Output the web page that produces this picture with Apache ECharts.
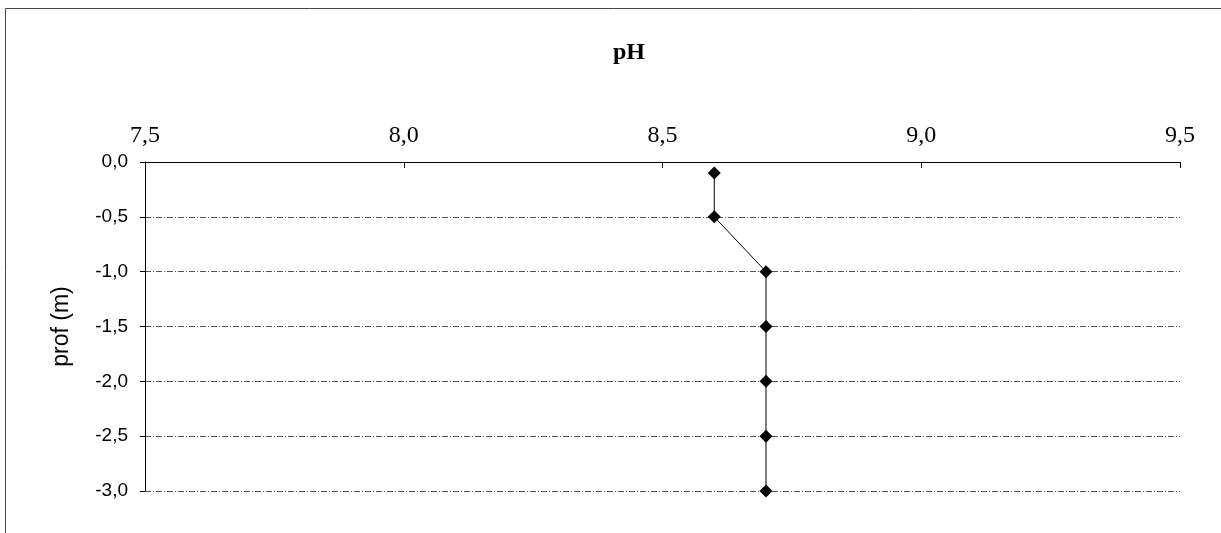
<!DOCTYPE html>
<html><head><meta charset="utf-8">
<script src="https://cdn.jsdelivr.net/npm/echarts@6/dist/echarts.min.js"></script>
<style>html,body{margin:0;padding:0;background:#fff}#c{width:1221px;height:533px}</style>
</head><body><div id="c"></div>
<script>
const phValues = [8.6, 8.6, 8.7, 8.7, 8.7, 8.7, 8.7];
const depths = [-0.1, -0.5, -1.0, -1.5, -2.0, -2.5, -3.0];
const titleText = 'pH';
const yAxisName = 'prof (m)';

const fmt = v => v.toFixed(1).replace('.', ',');
const chart = echarts.init(document.getElementById('c'), null, {renderer: 'canvas'});
chart.setOption({
  backgroundColor: '#fff',
  animation: false,
  title: {
    text: titleText, left: 608, top: 36,
    textStyle: {fontFamily: 'Liberation Serif', fontWeight: 'bold', fontSize: 24, color: '#000'}
  },
  graphic: [{
    type: 'rect', shape: {x: 5.5, y: 8.5, width: 1300, height: 600},
    style: {fill: 'none', stroke: '#444', lineWidth: 1}, silent: true
  }],
  grid: {left: 145, right: 41, top: 162, bottom: 42, containLabel: false},
  xAxis: {
    type: 'value', position: 'top', min: 7.5, max: 9.5, interval: 0.5,
    axisLine: {show: true, lineStyle: {color: '#000', width: 1}},
    axisTick: {show: true, inside: true, length: 6, lineStyle: {color: '#000'}},
    splitLine: {show: false},
    axisLabel: {formatter: fmt, fontFamily: 'Liberation Serif', fontSize: 24, color: '#000', margin: 14}
  },
  yAxis: {
    type: 'value', min: -3, max: 0, interval: 0.5,
    name: yAxisName, nameLocation: 'middle', nameGap: 72, nameRotate: 90,
    nameTextStyle: {fontFamily: 'Liberation Sans', fontSize: 23, color: '#000'},
    axisLine: {show: true, onZero: false, lineStyle: {color: '#000', width: 1}},
    axisTick: {show: true, length: 5, lineStyle: {color: '#000'}},
    splitLine: {show: true, lineStyle: {color: '#555', width: 1, type: [6, 2, 1, 2]}},
    axisLabel: {formatter: fmt, fontFamily: 'Liberation Sans', fontSize: 19, color: '#000', margin: 17}
  },
  series: [{
    type: 'line',
    data: phValues.map((v, i) => [v, depths[i]]),
    symbol: 'diamond', symbolSize: 13,
    itemStyle: {color: '#000'},
    lineStyle: {color: '#000', width: 1}
  }]
});
</script></body></html>
